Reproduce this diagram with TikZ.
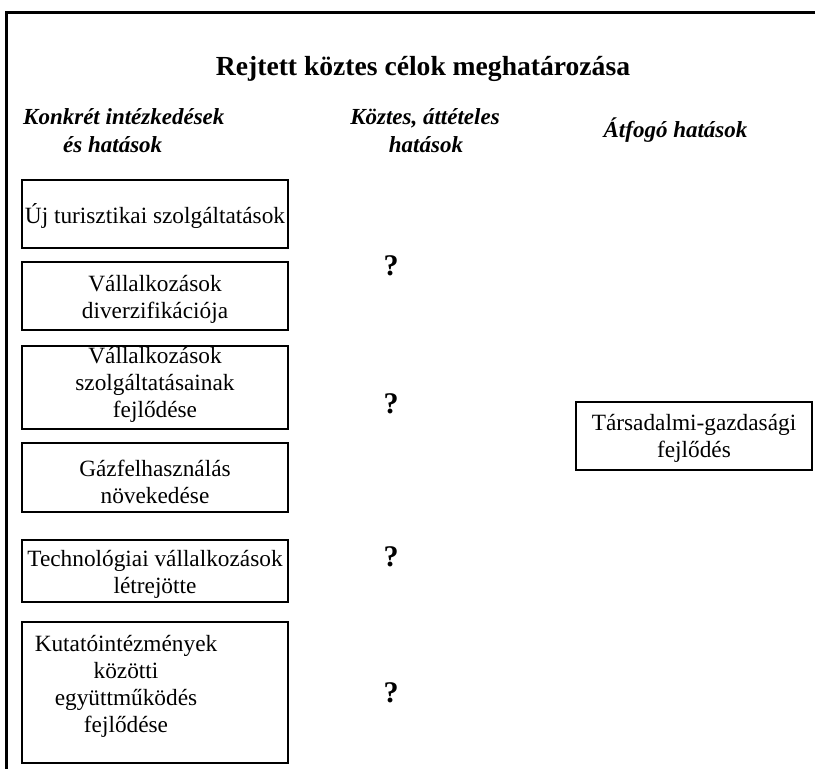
\documentclass[tikz,border=0pt]{standalone}
\usepackage{fontspec}
\setmainfont{Liberation Serif}
\begin{document}
\begin{tikzpicture}[x=1pt,y=-1pt,
  box/.style={draw, line width=1.4pt, inner sep=0pt, minimum width=266pt},
  txt/.style={align=center, inner sep=0pt, font=\fontsize{23.3}{27}\selectfont},
  head/.style={inner sep=0pt, font=\fontsize{23}{25}\selectfont\bfseries\itshape},
  qmark/.style={inner sep=0pt, font=\fontsize{30}{30}\selectfont\bfseries},
  frame/.style={line width=3pt}]
\useasboundingbox (0,0) rectangle (815,769);

% open frame: top and left edges only
\coordinate (tr) at (815,12.5);
\coordinate (tl) at (6.5,12.5);
\coordinate (bl) at (6.5,769);
\draw[frame] (tr) -- (tl) -- (bl);

% title and column headings
\node[inner sep=0pt, anchor=base, font=\fontsize{27.6}{30}\selectfont\bfseries] (title) at (423,75)
  {Rejtett köztes célok meghatározása};
\node[head, anchor=base west] (h1a) at (23,124) {Konkrét intézkedések};
\node[head, anchor=base west] (h1b) at (63,152) {és hatások};
\node[head, anchor=base] (h2a) at (425,124) {Köztes, áttételes};
\node[head, anchor=base] (h2b) at (426,152) {hatások};
\node[head, anchor=base] (h3) at (675.5,137) {Átfogó hatások};

% left column boxes
\node[box, minimum height=68pt]  (b1) at (155,214)   {};
\node[box, minimum height=68pt]  (b2) at (155,296)   {};
\node[box, minimum height=83pt]  (b3) at (155,387.5) {};
\node[box, minimum height=69pt]  (b4) at (155,477.5) {};
\node[box, minimum height=62pt]  (b5) at (155,571)   {};
\node[box, minimum height=141pt] (b6) at (155,692.5) {};

\node[txt] (t1) at ([yshift=-2pt]b1.center) {Új turisztikai szolgáltatások};
\node[txt] (t2) at ([yshift=-3.5pt]b2.center) {Vállalkozások\\diverzifikációja};
\node[txt] (t3) at ([yshift=3pt]b3.center) {Vállalkozások\\szolgáltatásainak\\fejlődése};
\node[txt] (t4) at ([yshift=-4.5pt]b4.center) {Gázfelhasználás\\növekedése};
\node[txt] (t5) at ([yshift=-3.5pt]b5.center) {Technológiai vállalkozások\\létrejötte};
\node[txt] (t6) at (126,686) {Kutatóintézmények\\közötti\\együttműködés\\fejlődése};

% middle column question marks
\node[qmark] (q1) at (391,266) {?};
\node[qmark] (q2) at (391,404) {?};
\node[qmark] (q3) at (391,557) {?};
\node[qmark] (q4) at (391,693) {?};

% right column box
\node[box, minimum width=236pt, minimum height=68pt] (rb) at (694,436) {};
\node[txt] (tr1) at ([yshift=-2pt]rb.center) {Társadalmi-gazdasági\\fejlődés};
\end{tikzpicture}
\end{document}
